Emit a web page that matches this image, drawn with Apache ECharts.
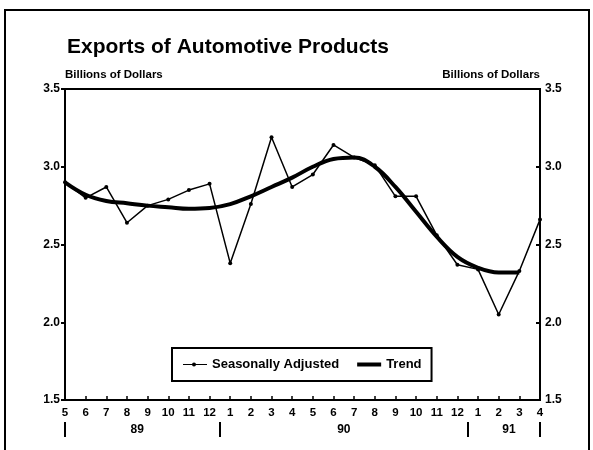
<!DOCTYPE html>
<html>
<head>
<meta charset="utf-8">
<script src="https://cdn.jsdelivr.net/npm/echarts@6/dist/echarts.min.js"></script>
<style>
  html, body { margin: 0; padding: 0; background: #fff; }
  #chart { width: 593px; height: 450px; }
</style>
</head>
<body>
<div id="chart"></div>
<script>
// months from May 1989 to April 1991
const months = ['5', '6', '7', '8', '9', '10', '11', '12',
  '1', '2', '3', '4', '5', '6', '7', '8', '9', '10', '11', '12',
  '1', '2', '3', '4'];
const years = ['89', '90', '91'];
const yearSpans = [[0, 7], [8, 19], [20, 23]]; // category index range of each year
const yearMarks = [0, 7.5, 19.5, 23];

const seasonallyAdjusted = [2.90, 2.80, 2.87, 2.64, 2.75, 2.79, 2.85, 2.89,
  2.38, 2.76, 3.19, 2.87, 2.95, 3.14, 3.06, 3.01, 2.81, 2.81, 2.56, 2.37,
  2.34, 2.05, 2.33, 2.66];
const trend = [2.90, 2.82, 2.78, 2.765, 2.75, 2.74, 2.73, 2.735,
  2.76, 2.81, 2.87, 2.93, 3.00, 3.05, 3.06, 3.00, 2.87, 2.71, 2.55, 2.42,
  2.35, 2.32, 2.32, null];

const FONT = '"Liberation Sans", Arial, sans-serif';
const chart = echarts.init(document.getElementById('chart'));

const yAxisBase = {
  type: 'value',
  min: 1.5,
  max: 3.5,
  interval: 0.5,
  splitLine: { show: false },
  axisLine: { show: true, lineStyle: { color: '#000', width: 2 } },
  axisTick: { show: true, length: 4, lineStyle: { color: '#000', width: 2 } },
  axisLabel: {
    color: '#000', fontFamily: FONT, fontWeight: 'bold', fontSize: 12, margin: 5,
    formatter: (v) => v.toFixed(1)
  }
};
const nameStyle = { color: '#000', fontFamily: FONT, fontWeight: 'bold', fontSize: 11.5 };

chart.setOption({
  animation: false,
  backgroundColor: '#fff',
  title: {
    text: 'Exports of Automotive Products',
    left: 62,
    top: 32,
    textStyle: { fontFamily: FONT, fontWeight: 'bold', fontSize: 21, color: '#000' }
  },
  grid: {
    left: 65, right: 53, top: 89, bottom: 50,
    show: true, borderColor: '#000', borderWidth: 2
  },
  legend: {
    left: 172,
    top: 348,
    padding: [10, 10, 10, 11],
    itemGap: 18,
    itemWidth: 24,
    itemHeight: 10,
    borderColor: '#000',
    borderWidth: 2,
    backgroundColor: '#fff',
    textStyle: { fontFamily: FONT, fontWeight: 'bold', fontSize: 13, color: '#000' },
    data: [
      { name: 'Seasonally Adjusted',
        icon: 'path://M0,4.4L24,4.4L24,5.6L0,5.6Z M9,5a2,2 0 1,1 4,0a2,2 0 1,1 -4,0Z' },
      { name: 'Trend', icon: 'path://M0,3L24,3L24,7L0,7Z' }
    ]
  },
  xAxis: {
    type: 'category',
    data: months,
    boundaryGap: false,
    axisLine: { lineStyle: { color: '#000', width: 2 } },
    axisTick: { inside: true, length: 4, alignWithLabel: true, lineStyle: { color: '#000', width: 1.5 } },
    axisLabel: {
      interval: 0, margin: 7,
      color: '#000', fontFamily: FONT, fontWeight: 'bold', fontSize: 11.5
    }
  },
  yAxis: [
    Object.assign({}, yAxisBase, {
      position: 'left',
      name: 'Billions of Dollars',
      nameLocation: 'end',
      nameGap: 8,
      nameTextStyle: Object.assign({ align: 'left' }, nameStyle)
    }),
    Object.assign({}, yAxisBase, {
      position: 'right',
      axisTick: { show: true, inside: true, length: 4, lineStyle: { color: '#000', width: 2 } },
      name: 'Billions of Dollars',
      nameLocation: 'end',
      nameGap: 8,
      nameTextStyle: Object.assign({ align: 'right' }, nameStyle)
    })
  ],
  series: [
    {
      name: 'Seasonally Adjusted',
      type: 'line',
      data: seasonallyAdjusted,
      symbol: 'circle',
      symbolSize: 4,
      itemStyle: { color: '#000' },
      lineStyle: { color: '#000', width: 1.5 },
      z: 3
    },
    {
      name: 'Trend',
      type: 'line',
      data: trend,
      smooth: 0.4,
      showSymbol: false,
      symbol: 'none',
      itemStyle: { color: '#000' },
      lineStyle: { color: '#000', width: 4 },
      z: 2
    }
  ]
});

// year labels and year separators under the month axis
const px = (i) => {
  const a = chart.convertToPixel({ xAxisIndex: 0 }, Math.floor(i));
  if (i === Math.floor(i)) return a;
  const b = chart.convertToPixel({ xAxisIndex: 0 }, Math.ceil(i));
  return a + (b - a) * (i - Math.floor(i));
};
const graphics = [
  {
    type: 'rect', silent: true, z: -1,
    shape: { x: 5, y: 10, width: 584, height: 460 },
    style: { fill: 'none', stroke: '#000', lineWidth: 2 }
  }
];
years.forEach((y, k) => {
  const [a, b] = yearSpans[k];
  graphics.push({
    type: 'text',
    x: (px(a) + px(b)) / 2,
    y: 430,
    style: {
      text: y, textAlign: 'center', textVerticalAlign: 'middle',
      font: 'bold 12px ' + FONT, fill: '#000'
    }
  });
});
yearMarks.forEach((m) => {
  const x = Math.round(px(m));
  graphics.push({
    type: 'line',
    shape: { x1: x, y1: 422, x2: x, y2: 437 },
    style: { stroke: '#000', lineWidth: 2 }
  });
});
chart.setOption({ graphic: graphics });
</script>
</body>
</html>
